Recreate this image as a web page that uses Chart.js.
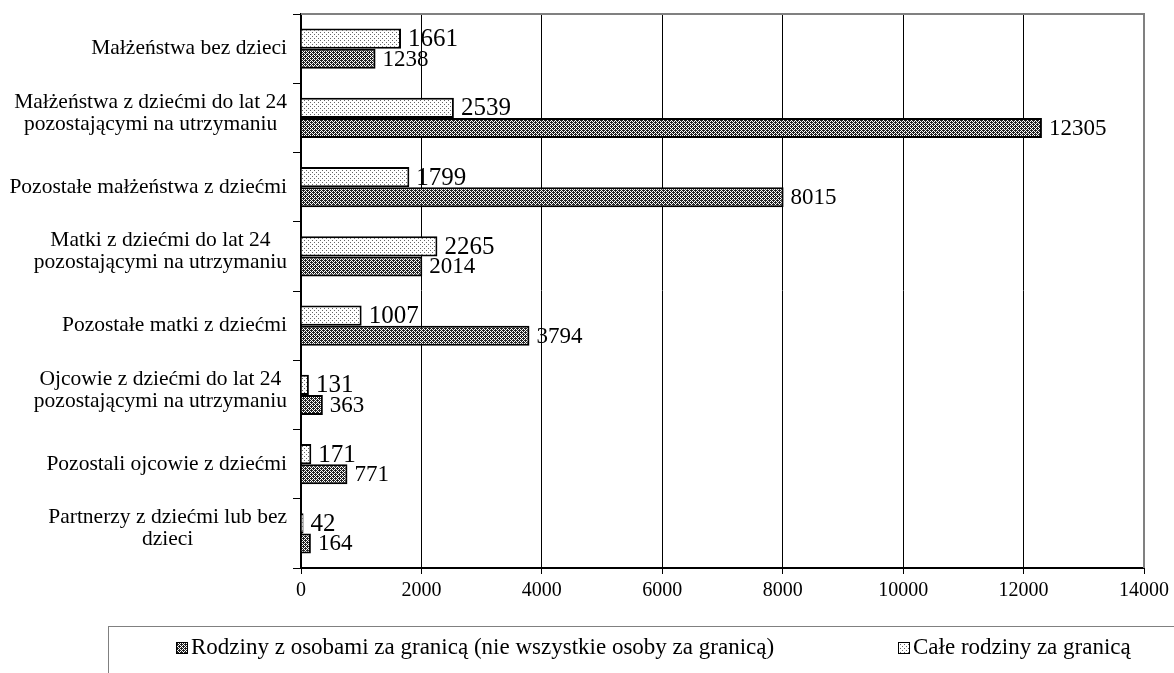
<!DOCTYPE html>
<html>
<head>
<meta charset="utf-8">
<script src="https://cdn.jsdelivr.net/npm/chart.js@4/dist/chart.umd.min.js"></script>
<style>
  html, body { margin: 0; padding: 0; background: #fff; }
  #wrap { width: 1174px; height: 673px; position: relative; }
</style>
</head>
<body>
<div id="wrap"><canvas id="chart"></canvas></div>
<script>
const categories = [
  ["Małżeństwa bez dzieci"],
  ["Małżeństwa z dziećmi do lat 24", "pozostającymi na utrzymaniu"],
  ["Pozostałe małżeństwa z dziećmi"],
  ["Matki z dziećmi do lat 24", "pozostającymi na utrzymaniu"],
  ["Pozostałe matki z dziećmi"],
  ["Ojcowie z dziećmi do lat 24", "pozostającymi na utrzymaniu"],
  ["Pozostali ojcowie z dziećmi"],
  ["Partnerzy z dziećmi lub bez", "dzieci"]
];
const caleRodziny = [1661, 2539, 1799, 2265, 1007, 131, 171, 42];
const rodzinyZOsobami = [1238, 12305, 8015, 2014, 3794, 363, 771, 164];
const seriesNames = [
  "Rodziny z osobami za granicą (nie wszystkie osoby za granicą)",
  "Całe rodziny za granicą"
];

const FONT = '"Liberation Serif", "Times New Roman", serif';

function makePattern(draw) {
  const c = document.createElement("canvas");
  c.width = 4;
  c.height = 4;
  const g = c.getContext("2d");
  draw(g);
  return g.createPattern(c, "repeat");
}

// light dotted fill
const dotPattern = makePattern((g) => {
  g.fillStyle = "#fff";
  g.fillRect(0, 0, 4, 4);
  g.fillStyle = "#666";
  g.fillRect(0, 0, 1, 1);
  g.fillRect(2, 2, 1, 1);
});

// dense dark fill
const densePattern = makePattern((g) => {
  g.fillStyle = "#fff";
  g.fillRect(0, 0, 4, 4);
  g.fillStyle = "#222";
  for (let y = 0; y < 4; y++) {
    for (let x = 0; x < 4; x++) {
      if ((x + y) % 2 === 0) g.fillRect(x, y, 1, 1);
    }
  }
  g.fillRect(1, 0, 1, 1);
  g.fillRect(3, 2, 1, 1);
});

const labelsPlugin = {
  id: "customLabels",
  afterDraw(chart) {
    const ctx = chart.ctx;
    const area = chart.chartArea;
    const yScale = chart.scales.y;

    ctx.save();

    // plot border top/right (gray)
    ctx.strokeStyle = "#808080";
    ctx.lineWidth = 2;
    ctx.beginPath();
    ctx.moveTo(area.left, area.top);
    ctx.lineTo(area.right, area.top);
    ctx.lineTo(area.right, area.bottom);
    ctx.stroke();

    // category labels, lines centred within each block
    ctx.fillStyle = "#000";
    ctx.font = "21.5px " + FONT;
    ctx.textBaseline = "middle";
    ctx.textAlign = "center";
    const lineH = 22;
    const rightEdge = area.left - 14;
    categories.forEach((lines, i) => {
      const yc = yScale.getPixelForTick(i);
      const maxW = Math.max(...lines.map((l) => ctx.measureText(l).width));
      const cx = rightEdge - maxW / 2;
      const shift = lines.length > 1 ? -5 : 0;
      const y0 = yc - ((lines.length - 1) * lineH) / 2 + shift;
      lines.forEach((l, k) => ctx.fillText(l, cx, y0 + k * lineH));
    });

    // value labels
    ctx.textAlign = "left";
    chart.data.datasets.forEach((ds, di) => {
      const meta = chart.getDatasetMeta(di);
      ctx.font = (di === 0 ? "25px " : "23px ") + FONT;
      meta.data.forEach((el, i) => {
        ctx.fillText(String(ds.data[i]), el.x + 7, el.y + 1);
      });
    });

    // legend
    ctx.strokeStyle = "#808080";
    ctx.lineWidth = 1;
    ctx.strokeRect(108.5, 626.5, 1200, 120);
    const items = [
      { x: 176, fill: densePattern, text: seriesNames[0] },
      { x: 898, fill: dotPattern, text: seriesNames[1] }
    ];
    ctx.font = "23px " + FONT;
    items.forEach((it) => {
      ctx.fillStyle = it.fill;
      ctx.fillRect(it.x, 642, 12, 12);
      ctx.strokeStyle = "#000";
      ctx.strokeRect(it.x + 0.5, 642.5, 11, 11);
      ctx.fillStyle = "#000";
      ctx.fillText(it.text, it.x + 15, 648);
    });

    ctx.restore();
  }
};

new Chart(document.getElementById("chart"), {
  type: "bar",
  data: {
    labels: categories.map((l) => l.join(" ")),
    datasets: [
      {
        label: seriesNames[1],
        data: caleRodziny,
        backgroundColor: dotPattern,
        borderColor: "#000",
        borderWidth: 2,
        categoryPercentage: 0.58,
        barPercentage: 1.0
      },
      {
        label: seriesNames[0],
        data: rodzinyZOsobami,
        backgroundColor: densePattern,
        borderColor: "#000",
        borderWidth: 2,
        categoryPercentage: 0.58,
        barPercentage: 1.0
      }
    ]
  },
  options: {
    indexAxis: "y",
    responsive: true,
    maintainAspectRatio: false,
    animation: false,
    layout: { padding: { top: 14, right: 29, left: 0, bottom: 0 } },
    plugins: {
      legend: { display: false },
      tooltip: { enabled: false }
    },
    scales: {
      x: {
        min: 0,
        max: 14000,
        ticks: {
          stepSize: 2000,
          padding: 5,
          color: "#000",
          font: { family: FONT, size: 20 },
          callback: (v) => String(v)
        },
        grid: {
          color: (c) => (c.tick && c.tick.value === 14000 ? "rgba(0,0,0,0)" : "#000"),
          tickColor: "#000",
          tickLength: 6,
          lineWidth: 1
        },
        border: { color: "#000", width: 2 },
        afterFit: (scale) => { scale.height = 105; }
      },
      y: {
        ticks: { display: false },
        grid: {
          offset: true,
          drawOnChartArea: false,
          color: "#000",
          tickLength: 8
        },
        border: { color: "#000", width: 2 },
        afterFit: (scale) => { scale.width = 301; }
      }
    }
  },
  plugins: [labelsPlugin]
});
</script>
</body>
</html>
